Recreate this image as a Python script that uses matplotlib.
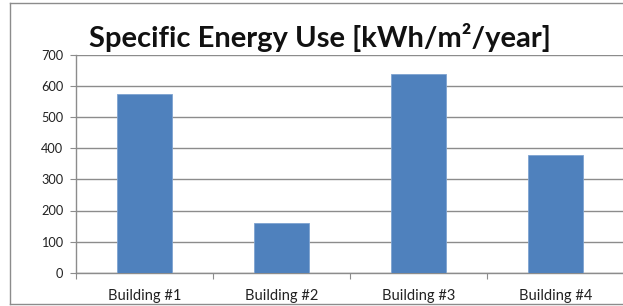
import matplotlib
matplotlib.use("Agg")
import matplotlib.pyplot as plt
from matplotlib.lines import Line2D
import numpy as np

categories = ["Building #1", "Building #2", "Building #3", "Building #4"]
values = [575, 160, 640, 380]
yticks = [0, 100, 200, 300, 400, 500, 600, 700]
title = "Specific Energy Use [kWh/m²/year]"

W, H = 623, 306
fig = plt.figure(figsize=(W / 100, H / 100), dpi=100)
fig.patch.set_facecolor("white")

# outer chart border
bx0, by0 = 10 / W, 1 - 304 / H
bx1, by1 = 1.2, 1 - 3 / H
for xs, ys in [([bx0, bx0], [by0, by1]), ([bx0, bx1], [by1, by1]), ([bx0, bx1], [by0, by0])]:
    fig.add_artist(Line2D(xs, ys, color="#8c8c8c", lw=1.0, transform=fig.transFigure))

left, right = 76 / W, 624 / W
top, bottom = 1 - 55 / H, 1 - 272.7 / H
ax = fig.add_axes([left, bottom, right - left, top - bottom])

x = np.arange(len(categories))
ax.bar(x, values, width=0.4, color="#4F81BD", edgecolor="#7ea3d1", linewidth=0.6, zorder=3)
ax.set_xlim(-0.5, len(categories) - 0.5)
ax.set_ylim(0, 700)
ax.set_yticks(yticks)
ax.yaxis.grid(True, color="#8c8c8c", lw=1.0, zorder=0)
ax.set_axisbelow(True)

ax.set_xticks(np.arange(len(categories) + 1) - 0.5)
ax.set_xticklabels([])
ax.set_xticks(x, minor=True)
ax.set_xticklabels(categories, minor=True, fontsize=10.5, fontfamily="Lato", color="#222222")
ax.tick_params(axis="x", which="major", length=4, color="#8c8c8c", direction="out")
ax.tick_params(axis="x", which="minor", length=0, pad=12)
ax.tick_params(axis="y", length=4, color="#8c8c8c", direction="out", pad=5)
for lab in ax.get_yticklabels():
    lab.set_fontfamily("Lato")
    lab.set_fontsize(9.2)
    lab.set_color("#222222")

for s in ["top", "right"]:
    ax.spines[s].set_visible(False)
for s in ["left", "bottom"]:
    ax.spines[s].set_color("#8c8c8c")
    ax.spines[s].set_linewidth(1.0)

fig.text(320 / W, 1 - 37 / H, title, ha="center", va="center",
         fontsize=21, fontweight="bold", fontfamily="Lato", color="#111111")

fig.savefig("out.png", dpi=100)
